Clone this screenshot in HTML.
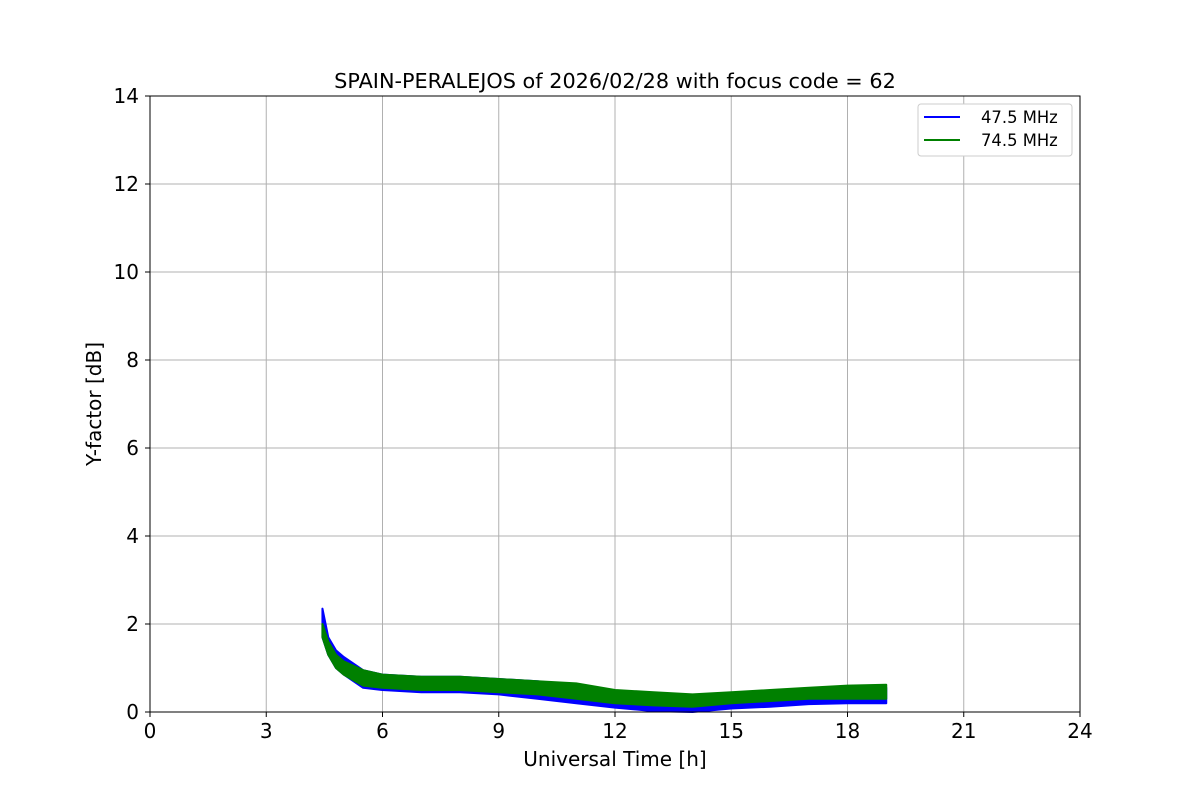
<!DOCTYPE html>
<html><head><meta charset="utf-8"><style>
body{margin:0;background:#fff;font-family:"Liberation Sans","DejaVu Sans",sans-serif}
</style></head><body>
<svg id="chart" width="1200" height="800" font-family="'DejaVu Sans','Liberation Sans',sans-serif">
<rect width="1200" height="800" fill="#fff"/>
<g id="grid"></g>
<g id="series"></g>
<rect x="150" y="96" width="930" height="616" fill="none" stroke="#000" stroke-width="1"/>
<g id="ticks"></g>
<text x="615" y="88" text-anchor="middle" font-size="20.8">SPAIN-PERALEJOS of 2026/02/28 with focus code = 62</text>
<text x="615" y="766" text-anchor="middle" font-size="20">Universal Time [h]</text>
<text x="101" y="404" text-anchor="middle" font-size="20" transform="rotate(-90 101 404)">Y-factor [dB]</text>
<g>
<rect x="918" y="104" width="154" height="52" rx="3" fill="#fff" stroke="#ccc"/>
<line x1="924" y1="117" x2="960" y2="117" stroke="#0000ff" stroke-width="2"/>
<text x="981" y="123" font-size="16.4">47.5 MHz</text>
<line x1="924" y1="140" x2="960" y2="140" stroke="#008000" stroke-width="2"/>
<text x="981" y="146" font-size="16.4">74.5 MHz</text>
</g>
</svg>
<script>
const hours=[4.45,4.6,4.8,5.0,5.5,6,7,8,9,10,11,12,13,14,15,16,17,18,19];
const blueLow=[1.7,1.3,1.0,0.85,0.55,0.5,0.45,0.45,0.4,0.3,0.2,0.1,0.02,0,0.08,0.12,0.18,0.2,0.2];
const blueHigh=[2.35,1.7,1.4,1.25,0.95,0.85,0.8,0.8,0.75,0.7,0.6,0.45,0.4,0.35,0.4,0.45,0.5,0.55,0.55];
const greenLow=[1.7,1.3,1.0,0.85,0.6,0.55,0.5,0.5,0.45,0.4,0.3,0.2,0.15,0.12,0.2,0.25,0.3,0.3,0.3];
const greenHigh=[2.0,1.6,1.3,1.15,0.95,0.85,0.8,0.8,0.75,0.7,0.65,0.5,0.45,0.4,0.45,0.5,0.55,0.6,0.62];
const xTicks=[0,3,6,9,12,15,18,21,24];
const yTicks=[0,2,4,6,8,10,12,14];
const NS='http://www.w3.org/2000/svg';
const X=h=>150+h*930/24, Y=v=>712-v*616/14;
function mk(tag,attrs,parent){const e=document.createElementNS(NS,tag);for(const k in attrs)e.setAttribute(k,attrs[k]);document.getElementById(parent).appendChild(e);return e;}
xTicks.forEach(t=>{
 const g=mk('line',{x1:X(t),x2:X(t),y1:96,y2:712,stroke:'#b0b0b0','stroke-width':1},'grid');
 
 
 const k=mk('line',{x1:X(t),x2:X(t),y1:712,y2:717,stroke:'#000'},'ticks');
 
 
 const l=mk('text',{x:X(t),y:738,'text-anchor':'middle','font-size':20},'ticks');l.textContent=t;
 
 
});
yTicks.forEach(t=>{
 const g=mk('line',{x1:150,x2:1080,y1:Y(t),y2:Y(t),stroke:'#b0b0b0','stroke-width':1},'grid');
 
 
 const k=mk('line',{x1:145,x2:150,y1:Y(t),y2:Y(t),stroke:'#000'},'ticks');
 
 
 const l=mk('text',{x:139,y:Y(t)+7,'text-anchor':'end','font-size':20},'ticks');l.textContent=t;
 
 
});
function band(lo,hi,color,name){
 let pts=hours.map((h,i)=>X(h)+','+Y(hi[i]));
 pts=pts.concat(hours.map((h,i)=>X(h)+','+Y(lo[i])).reverse());
 const p=mk('polygon',{points:pts.join(' '),fill:color,stroke:color,'stroke-width':2,'stroke-linejoin':'round'},'series');
 
 
}
band(blueLow,blueHigh,'#0000ff','series-47-5-mhz');
band(greenLow,greenHigh,'#008000','series-74-5-mhz');
</script>
</body></html>
